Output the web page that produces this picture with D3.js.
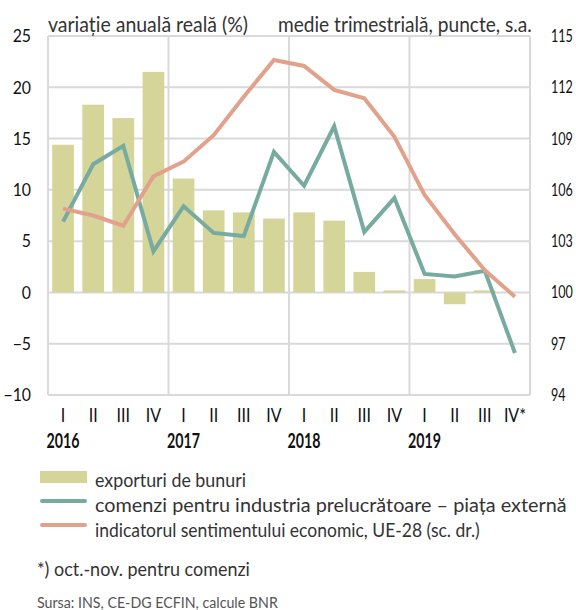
<!DOCTYPE html>
<html>
<head>
<meta charset="utf-8">
<script src="https://cdn.jsdelivr.net/npm/d3@7"></script>
<style>
  body { margin: 0; background: #fff; }
  svg text { font-family: Lato, "Open Sans", sans-serif; }
</style>
</head>
<body>
<div id="chart"></div>
<script>
// Date
const quarterLabels = ["I", "II", "III", "IV", "I", "II", "III", "IV",
  "I", "II", "III", "IV", "I", "II", "III", "IV*"];
const yearLabels = ["2016", "2017", "2018", "2019"];
const exportValues = [14.4, 18.3, 17.0, 21.5, 11.1, 8.0, 7.8, 7.2,
  7.8, 7.0, 2.0, 0.2, 1.3, -1.15, 0.2, null];
const orderValues = [6.9, 12.5, 14.3, 4.0, 8.4, 5.8, 5.5, 13.7,
  10.4, 16.2, 5.9, 9.2, 1.8, 1.55, 2.1, -5.9];
const esiValues = [104.9, 104.5, 103.9, 106.8, 107.65, 109.2, 111.45, 113.6,
  113.25, 111.85, 111.36, 109.1, 105.7, 103.4, 101.3, 99.75];
const leftTicks = [-10, -5, 0, 5, 10, 15, 20, 25];
const rightTicks = [94, 97, 100, 103, 106, 109, 112, 115];
const legendLabels = [
  "exporturi de bunuri",
  "comenzi pentru industria prelucrătoare – piața externă",
  "indicatorul sentimentului economic, UE-28 (sc. dr.)"
];

const colBar = "#d5d59a", colGreen = "#78aba0", colOrange = "#e2a18a", colGrid = "#d9d9d9";

let margin = { top: 36, left: 48 },
  width = 482,
  height = 359;

let svg = d3.select("#chart").append("svg")
  .attr("width", 576)
  .attr("height", 610);

let g = svg.append("g")
  .attr("transform", "translate(" + margin.left + "," + margin.top + ")");

// textul din original e ingust -> il comprimam pe orizontala (in jurul punctului de ancorare)
function squeeze(sel, f) {
  sel.each(function () {
    let t = d3.select(this), ax = +t.attr("x") || 0;
    t.attr("transform", "translate(" + ax + ",0) scale(" + f + ",1) translate(" + (-ax) + ",0)");
  });
}
function fit(sel, w) {
  sel.each(function () {
    squeeze(d3.select(this), w / this.getComputedTextLength());
  });
}

// Scale
let x = d3.scaleBand()
  .domain(d3.range(quarterLabels.length))
  .range([0, width])
  .paddingInner(0.28)
  .paddingOuter(0.14);
let yL = d3.scaleLinear().domain([-10, 25]).range([height, 0]);
let yR = d3.scaleLinear().domain([94, 115]).range([height, 0]);

// Grila
g.selectAll(".hgrid").data(leftTicks).enter().append("line")
  .attr("x1", 0).attr("x2", width)
  .attr("y1", d => yL(d)).attr("y2", d => yL(d))
  .attr("stroke", colGrid).attr("stroke-width", 2);
let step = x.step();
g.selectAll(".vgrid").data(d3.range(0, quarterLabels.length + 1, 4)).enter().append("line")
  .attr("x1", d => d * step).attr("x2", d => d * step)
  .attr("y1", 0).attr("y2", height)
  .attr("stroke", colGrid).attr("stroke-width", 2);

// Bare
g.selectAll(".bar").data(exportValues.map((v, i) => ({ i, v })).filter(d => d.v !== null))
  .enter().append("rect")
  .attr("x", d => x(d.i))
  .attr("width", x.bandwidth())
  .attr("y", d => yL(Math.max(0, d.v)))
  .attr("height", d => Math.abs(yL(d.v) - yL(0)))
  .attr("fill", colBar);

// Linii
let cx = i => x(i) + x.bandwidth() / 2;
g.append("path")
  .datum(orderValues)
  .attr("fill", "none").attr("stroke", colGreen).attr("stroke-width", 4)
  .attr("d", d3.line().x((d, i) => cx(i)).y(d => yL(d)));
g.append("path")
  .datum(esiValues)
  .attr("fill", "none").attr("stroke", colOrange).attr("stroke-width", 4)
  .attr("d", d3.line().x((d, i) => cx(i)).y(d => yR(d)));

// Axe
let axL = g.append("g")
  .call(d3.axisLeft(yL).tickValues(leftTicks).tickSize(0).tickPadding(17));
let axR = g.append("g")
  .attr("transform", "translate(" + width + ",0)")
  .call(d3.axisRight(yR).tickValues(rightTicks).tickSize(0).tickPadding(21));
let axB = g.append("g")
  .attr("transform", "translate(0," + height + ")")
  .call(d3.axisBottom(x).tickFormat(i => quarterLabels[i]).tickSize(0).tickPadding(13));
[axL, axR, axB].forEach(a => {
  a.select(".domain").remove();
  a.selectAll("text").attr("fill", "#111").style("font-size", "18px")
    .style("font-family", "Lato, sans-serif");
});
axR.selectAll("text").style("font-size", "17px");
axB.selectAll("text").style("font-size", "20px");
squeeze(axL.selectAll("text"), 0.88);
squeeze(axR.selectAll("text"), 0.74);
squeeze(axB.selectAll("text"), 0.8);

// Ani
let yrs = g.selectAll(".year").data(yearLabels).enter().append("text")
  .attr("x", (d, k) => cx(k * 4))
  .attr("y", height + 53)
  .attr("text-anchor", "middle")
  .attr("fill", "#111")
  .style("font-size", "20px").style("font-weight", "bold")
  .text(d => d);
fit(yrs, 33);

// Titluri axe
fit(svg.append("text").attr("x", 48).attr("y", 32)
  .attr("fill", "#333").style("font-size", "21px")
  .text("variație anuală reală (%)"), 200);
fit(svg.append("text").attr("x", 278).attr("y", 32)
  .attr("fill", "#333").style("font-size", "21px")
  .text("medie trimestrială,  puncte, s.a."), 254);

// Legenda
let leg = svg.append("g").attr("transform", "translate(40,0)");
leg.append("rect").attr("x", 0).attr("y", 471).attr("width", 47).attr("height", 12).attr("fill", colBar);
leg.append("line").attr("x1", 2).attr("x2", 45).attr("y1", 501).attr("y2", 501)
  .attr("stroke", colGreen).attr("stroke-width", 4).attr("stroke-linecap", "round");
leg.append("line").attr("x1", 2).attr("x2", 45).attr("y1", 525).attr("y2", 525)
  .attr("stroke", colOrange).attr("stroke-width", 4).attr("stroke-linecap", "round");
const legendWidths = [151, 472, 385];
leg.selectAll(".lt").data(legendLabels).enter().append("text")
  .attr("x", 55)
  .attr("y", (d, i) => 487 + i * 25)
  .attr("fill", "#333").style("font-size", "20px")
  .text(d => d)
  .each(function (d, i) { fit(d3.select(this), legendWidths[i]); });

fit(svg.append("text").attr("x", 37).attr("y", 576)
  .attr("fill", "#333").style("font-size", "20px")
  .text("*) oct.-nov. pentru comenzi"), 213);
fit(svg.append("text").attr("x", 37).attr("y", 608)
  .attr("fill", "#555").style("font-size", "16px")
  .text("Sursa: INS, CE-DG ECFIN, calcule BNR"), 241);
</script>
</body>
</html>
